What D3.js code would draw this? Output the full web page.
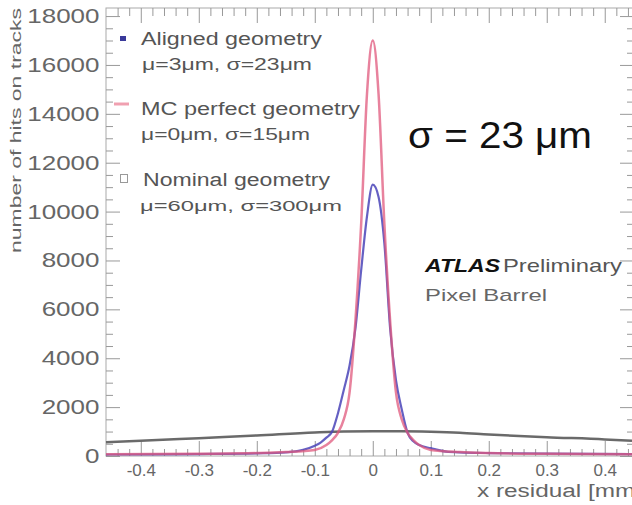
<!DOCTYPE html>
<html>
<head>
<meta charset="utf-8">
<script src="https://cdn.jsdelivr.net/npm/d3@7"></script>
<style>
  body { margin: 0; background: #fff; }
  svg { display: block; }
</style>
</head>
<body>
<div id="container"></div>
<script>
var WIDTH = 632;
var HEIGHT = 505;
var FRAME = { LEFT: 106, RIGHT: 634, TOP: 8, BOTTOM: 456 };
var FONT = '"Liberation Sans", Arial, Helvetica, sans-serif';

// axis ticks
const xTicks = [-0.4, -0.3, -0.2, -0.1, 0, 0.1, 0.2, 0.3, 0.4];
const xTickLabels = ['-0.4', '-0.3', '-0.2', '-0.1', '0', '0.1', '0.2', '0.3', '0.4'];
const yTicks = [0, 2000, 4000, 6000, 8000, 10000, 12000, 14000, 16000, 18000];

// residual distributions
const residualAligned = [-0.46, -0.3, -0.2, -0.15, -0.12, -0.1, -0.09, -0.08, -0.07, -0.06,
                         -0.05, -0.04, -0.03, -0.02, -0.01, 0, 0.01, 0.02, 0.03, 0.04,
                         0.05, 0.06, 0.07, 0.08, 0.1, 0.13, 0.2, 0.3, 0.447];
const hitsAligned = [60, 80, 110, 150, 250, 420, 550, 750, 1000, 1750,
                     2700, 3700, 5200, 7600, 9800, 11100, 10600, 8700, 5200, 3100,
                     1900, 950, 600, 450, 320, 170, 120, 100, 80];

const residualPerfect = [-0.46, -0.3, -0.2, -0.15, -0.1, -0.08, -0.07, -0.06, -0.05, -0.04,
                         -0.03, -0.02, -0.01, 0, 0.01, 0.02, 0.03, 0.04, 0.05, 0.06,
                         0.07, 0.08, 0.1, 0.15, 0.2, 0.3, 0.447];
const hitsPerfect = [70, 90, 120, 160, 250, 450, 650, 950, 1500, 2600,
                     5500, 9500, 14800, 17000, 14800, 9500, 5500, 2600, 1500, 950,
                     650, 450, 250, 160, 120, 90, 70];

const residualNominal = [-0.46, -0.4, -0.3, -0.2, -0.1, -0.05, 0, 0.05, 0.1, 0.15, 0.2, 0.3, 0.4, 0.447];
const hitsNominal = [560, 620, 730, 840, 960, 1000, 1010, 1010, 990, 950, 880, 770, 680, 620];

const legendNames = ['Aligned geometry', 'MC perfect geometry', 'Nominal geometry'];
const legendFits = ['\u03bc=3\u03bcm, \u03c3=23\u03bcm', '\u03bc=0\u03bcm, \u03c3=15\u03bcm', '\u03bc=60\u03bcm, \u03c3=300\u03bcm'];

const svg = d3.select('#container')
  .append('svg')
    .attr('width', WIDTH)
    .attr('height', HEIGHT);

const x = d3.scaleLinear()
  .domain([-0.46, 0.447])
  .range([FRAME.LEFT, 632]);

const y = d3.scaleLinear()
  .domain([0, 18330])
  .range([FRAME.BOTTOM, FRAME.TOP]);

// text helper: stretched to a measured width, like the original canvas
function label(txt, px, py, size, width, fill, extra) {
  const t = svg.append('text')
    .attr('x', px)
    .attr('y', py)
    .attr('font-family', FONT)
    .attr('font-size', size)
    .attr('fill', fill || '#555')
    .text(txt);
  if (width) t.attr('textLength', width).attr('lengthAdjust', 'spacingAndGlyphs');
  if (extra) extra(t);
  return t;
}

// frame
svg.append('rect')
  .attr('x', FRAME.LEFT)
  .attr('y', FRAME.TOP)
  .attr('width', FRAME.RIGHT - FRAME.LEFT)
  .attr('height', FRAME.BOTTOM - FRAME.TOP)
  .attr('fill', 'none')
  .attr('stroke', '#aaa');

function styleAxis(g) {
  g.select('.domain').remove();
  g.selectAll('.tick line').attr('stroke', '#999');
}

const xMinor = d3.range(-0.44, 0.447, 0.02).filter(v => Math.abs(Math.round(v * 10) - v * 10) > 1e-6);
const yMinor = d3.range(0, 18330, 500).filter(v => v % 2000 !== 0);

// bottom axis
svg.append('g')
  .attr('transform', `translate(0, ${FRAME.BOTTOM})`)
  .call(d3.axisBottom(x).tickValues(xMinor).tickSizeInner(-7).tickSizeOuter(0).tickFormat(''))
  .call(styleAxis);

const xAxis = svg.append('g')
  .attr('transform', `translate(0, ${FRAME.BOTTOM})`)
  .call(d3.axisBottom(x).tickValues(xTicks).tickSizeInner(-15).tickSizeOuter(0).tickPadding(8)
    .tickFormat((d, i) => xTickLabels[i]))
  .call(styleAxis);
xAxis.selectAll('text')
  .attr('font-family', FONT)
  .attr('font-size', 17)
  .attr('fill', '#666');

// top axis
svg.append('g')
  .attr('transform', `translate(0, ${FRAME.TOP})`)
  .call(d3.axisTop(x).tickValues(xMinor).tickSizeInner(-8).tickSizeOuter(0).tickFormat(''))
  .call(styleAxis);
svg.append('g')
  .attr('transform', `translate(0, ${FRAME.TOP})`)
  .call(d3.axisTop(x).tickValues(xTicks).tickSizeInner(-15).tickSizeOuter(0).tickFormat(''))
  .call(styleAxis);

// left axis
svg.append('g')
  .attr('transform', `translate(${FRAME.LEFT}, 0)`)
  .call(d3.axisLeft(y).tickValues(yMinor).tickSizeInner(-7).tickSizeOuter(0).tickFormat(''))
  .call(styleAxis);
const yAxis = svg.append('g')
  .attr('transform', `translate(${FRAME.LEFT}, 0)`)
  .call(d3.axisLeft(y).tickValues(yTicks).tickSizeInner(-14).tickSizeOuter(0).tickPadding(5)
    .tickFormat(d3.format('d')))
  .call(styleAxis);
yAxis.selectAll('text')
  .attr('font-family', FONT)
  .attr('font-size', 20)
  .attr('fill', '#666')
  .attr('transform', 'scale(1.3, 1)');

// right axis
svg.append('g')
  .attr('transform', `translate(${FRAME.RIGHT}, 0)`)
  .call(d3.axisRight(y).tickValues(yMinor).tickSizeInner(-7).tickSizeOuter(0).tickFormat(''))
  .call(styleAxis);
svg.append('g')
  .attr('transform', `translate(${FRAME.RIGHT}, 0)`)
  .call(d3.axisRight(y).tickValues(yTicks).tickSizeInner(-14).tickSizeOuter(0).tickFormat(''))
  .call(styleAxis);

// curves
const line = d3.line()
  .x(d => x(d[0]))
  .y(d => y(d[1]))
  .curve(d3.curveMonotoneX);

svg.append('path')
  .datum(d3.zip(residualNominal, hitsNominal))
  .attr('d', line)
  .attr('fill', 'none')
  .attr('stroke', '#6a6a6a')
  .attr('stroke-width', 2.5);

svg.append('path')
  .datum(d3.zip(residualAligned, hitsAligned))
  .attr('d', line)
  .attr('fill', 'none')
  .attr('stroke', '#4a44b8')
  .attr('stroke-width', 2.2)
  .attr('stroke-opacity', 0.85);

svg.append('path')
  .datum(d3.zip(residualPerfect, hitsPerfect))
  .attr('d', line)
  .attr('fill', 'none')
  .attr('stroke', '#e0587c')
  .attr('stroke-width', 2.5)
  .attr('stroke-opacity', 0.75);

// legend
svg.append('rect')
  .attr('x', 120).attr('y', 36).attr('width', 6).attr('height', 5)
  .attr('fill', '#3a3a9a');
svg.append('line')
  .attr('x1', 114).attr('x2', 129).attr('y1', 104).attr('y2', 104)
  .attr('stroke', '#f0a0b0').attr('stroke-width', 3);
svg.append('rect')
  .attr('x', 120.5).attr('y', 174.5).attr('width', 7).attr('height', 8)
  .attr('fill', 'none').attr('stroke', '#999');

label(legendNames[0], 141, 45, 18, 181);
label(legendFits[0], 142, 70, 17, 170);
label(legendNames[1], 141, 115, 18, 219);
label(legendFits[1], 141, 140, 17, 169);
label(legendNames[2], 143, 186, 18, 187);
label(legendFits[2], 140, 211, 14, 202);

// annotations
label('\u03c3 = 23 \u03bcm', 408, 148, 36, 184, '#111');
label('ATLAS', 425, 272, 19, 75, '#111', t => t.attr('font-weight', 'bold').attr('font-style', 'italic'));
label('Preliminary', 503, 272, 19, 119, '#555');
label('Pixel Barrel', 425, 301, 17, 122, '#666');

// axis titles
label('x residual [mm]', 477, 497, 18, 165, '#666');
label('number of hits on tracks', 0, 0, 15, 245, '#666', t => t
  .attr('text-anchor', 'end')
  .attr('transform', 'translate(21, 8) rotate(-90)'));
</script>
</body>
</html>
